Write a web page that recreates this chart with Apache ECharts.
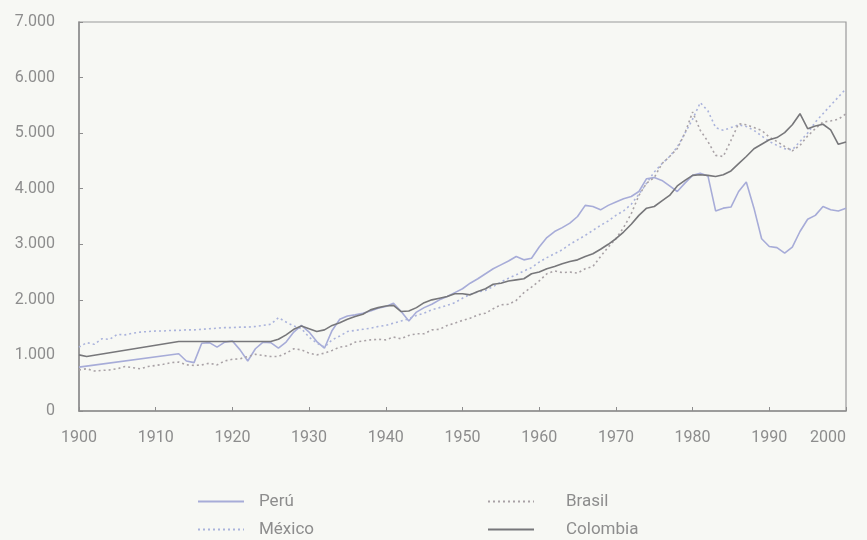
<!DOCTYPE html>
<html>
<head>
<meta charset="utf-8">
<script src="https://cdn.jsdelivr.net/npm/echarts@6/dist/echarts.min.js"></script>
<style>
  html, body { margin: 0; padding: 0; background: #f7f8f4; }
  #chart { width: 867px; height: 540px; }
</style>
</head>
<body>
<div id="chart"></div>
<script>
// years on the x axis
var years = [];
for (var y = 1900; y <= 2000; y++) years.push(y);

var yTicks = [0, 1000, 2000, 3000, 4000, 5000, 6000, 7000];

// one row per decade, null = no point (line joins across)
var peru = [
  790, null, null, null, null, null, null, null, null, null,
  null, null, null, 1030, 900, 870, 1220, 1230, 1150, 1240,
  1260, 1100, 900, 1120, 1240, 1230, 1130, 1240, 1420, 1540,
  1420, 1250, 1130, 1450, 1650, 1710, 1730, 1760, 1800, 1850,
  1880, 1940, 1790, 1620, 1780, 1860, 1920, 2000, 2060, 2130,
  2200, 2300, 2380, 2470, 2560, 2630, 2700, 2780, 2720, 2750,
  2950, 3120, 3230, 3300, 3380, 3500, 3700, 3680, 3620, 3700,
  3760, 3820, 3860, 3950, 4180, 4200, 4150, 4050, 3950, 4100,
  4240, 4280, 4230, 3600, 3650, 3670, 3950, 4120, 3650, 3100,
  2960, 2940, 2840, 2950, 3230, 3450, 3520, 3680, 3620, 3600,
  3650
];

var mexico = [
  1150, 1230, 1200, 1300, 1290, 1380, 1370, 1400, 1420, 1430,
  1440, 1440, 1450, 1450, 1460, 1460, 1470, 1480, 1490, 1500,
  1500, 1510, 1510, 1520, 1540, 1560, 1680, 1600, 1530, 1480,
  1330, 1220, 1150, 1280, 1350, 1430, 1450, 1470, 1490, 1520,
  1540, 1580, 1620, 1660, 1720, 1760, 1820, 1860, 1900, 1950,
  2030, 2100, 2140, 2170, 2240, 2320, 2390, 2450, 2520, 2580,
  2680, 2760, 2830, 2900, 3000, 3080, 3160, 3250, 3340, 3420,
  3520, 3600, 3720, 3900, 4100, 4300, 4450, 4580, 4750, 5000,
  5250, 5550, 5400, 5100, 5050, 5100, 5150, 5120, 5050, 4950,
  4850, 4780, 4720, 4700, 4850, 5000, 5200, 5350, 5500, 5650,
  5800
];

var brasil = [
  740, 760, 720, 730, 740, 760, 800, 780, 760, 800,
  820, 840, 870, 880, 830, 820, 830, 860, 830, 900,
  930, 940, 980, 1020, 1000, 980, 980, 1040, 1120, 1100,
  1040, 1010, 1040, 1090, 1150, 1170, 1240, 1260, 1280, 1290,
  1280, 1330, 1300, 1360, 1390, 1390, 1460, 1470, 1540, 1580,
  1630, 1670, 1730, 1760, 1840, 1910, 1920, 1990, 2130, 2230,
  2340, 2470, 2520, 2490, 2500, 2480, 2560, 2600, 2780, 2950,
  3100, 3300, 3550, 3880, 4100, 4200, 4450, 4580, 4720, 5000,
  5380, 5050, 4850, 4600, 4580, 4870, 5170, 5150, 5100, 5050,
  4930, 4850, 4760, 4680, 4780, 4950, 5080, 5200, 5220, 5250,
  5350
];

var colombia = [
  1010, 980, null, null, null, null, null, null, null, null,
  null, null, null, 1250, null, null, null, null, null, null,
  null, null, null, null, null, 1250, 1290, 1370, 1470, 1530,
  1480, 1430, 1460, 1540, 1590, 1650, 1700, 1740, 1820, 1860,
  1890, 1900, 1790, 1800, 1860, 1950, 2000, 2030, 2060, 2110,
  2110, 2090, 2150, 2200, 2280, 2300, 2340, 2360, 2380, 2470,
  2500, 2560, 2600, 2650, 2690, 2720, 2780, 2830, 2910, 3000,
  3100, 3220, 3360, 3520, 3650, 3680, 3780, 3880, 4050, 4150,
  4240, 4250, 4240, 4220, 4250, 4320, 4450, 4580, 4720, 4800,
  4880, 4920, 5010, 5150, 5350, 5080, 5130, 5160, 5060, 4800,
  4840
];

function pairs(vals) {
  return years.map(function (yr, i) { return [yr, vals[i]]; });
}

var font = 'Roboto, sans-serif';
var grey = '#8d8d8d';

var chart = echarts.init(document.getElementById('chart'));

var legendBase = {
  orient: 'vertical', top: 493, padding: 0,
  itemWidth: 46, itemHeight: 14, itemGap: 11,
  itemStyle: { opacity: 0 }
};

var option = {
  backgroundColor: '#f7f8f4',
  animation: false,
  grid: {
    left: 79, right: 21, top: 22, bottom: 129,
    show: true, borderColor: '#9a9a9a', borderWidth: 1.2
  },
  legend: [
    Object.assign({}, legendBase, {
      left: 197,
      textStyle: { fontFamily: font, fontSize: 17, color: grey, padding: [0, 0, 0, 10] },
      data: ['Perú', 'México']
    }),
    Object.assign({}, legendBase, {
      left: 487,
      textStyle: { fontFamily: font, fontSize: 17, color: grey, padding: [0, 0, 0, 27] },
      data: ['Brasil', 'Colombia']
    })
  ],
  xAxis: {
    type: 'value',
    min: 1900, max: 2000, interval: 10,
    axisLine: { lineStyle: { color: grey, width: 1.5 } },
    axisTick: { inside: true, length: 4, lineStyle: { color: grey } },
    splitLine: { show: false },
    axisLabel: {
      color: grey, fontFamily: font, fontSize: 16, margin: 19,
      alignMaxLabel: 'right',
      formatter: function (v) { return String(v); }
    }
  },
  yAxis: {
    type: 'value',
    min: yTicks[0], max: yTicks[yTicks.length - 1], interval: 1000,
    axisLine: { show: true, lineStyle: { color: grey, width: 1.5 } },
    axisTick: { show: true, inside: true, length: 4, lineStyle: { color: grey } },
    splitLine: { show: false },
    axisLabel: {
      color: grey, fontFamily: font, fontSize: 16, margin: 24,
      formatter: function (v) {
        return v === 0 ? '0' : String(v).replace(/\B(?=(\d{3})+(?!\d))/g, '.');
      }
    }
  },
  series: [
    {
      name: 'Perú', type: 'line', symbol: 'none', connectNulls: true,
      data: pairs(peru),
      lineStyle: { color: '#a7acd8', width: 1.6 },
      itemStyle: { color: '#a7acd8' }
    },
    {
      name: 'México', type: 'line', symbol: 'none', connectNulls: true,
      data: pairs(mexico),
      lineStyle: { color: '#aab3dc', width: 1.6, type: [2, 3] },
      itemStyle: { color: '#aab3dc' }
    },
    {
      name: 'Brasil', type: 'line', symbol: 'none', connectNulls: true,
      data: pairs(brasil),
      lineStyle: { color: '#a9a2a6', width: 1.6, type: [2, 3] },
      itemStyle: { color: '#a9a2a6' }
    },
    {
      name: 'Colombia', type: 'line', symbol: 'none', connectNulls: true,
      data: pairs(colombia),
      lineStyle: { color: '#77777a', width: 1.6 },
      itemStyle: { color: '#77777a' }
    }
  ]
};

chart.setOption(option);
</script>
</body>
</html>
